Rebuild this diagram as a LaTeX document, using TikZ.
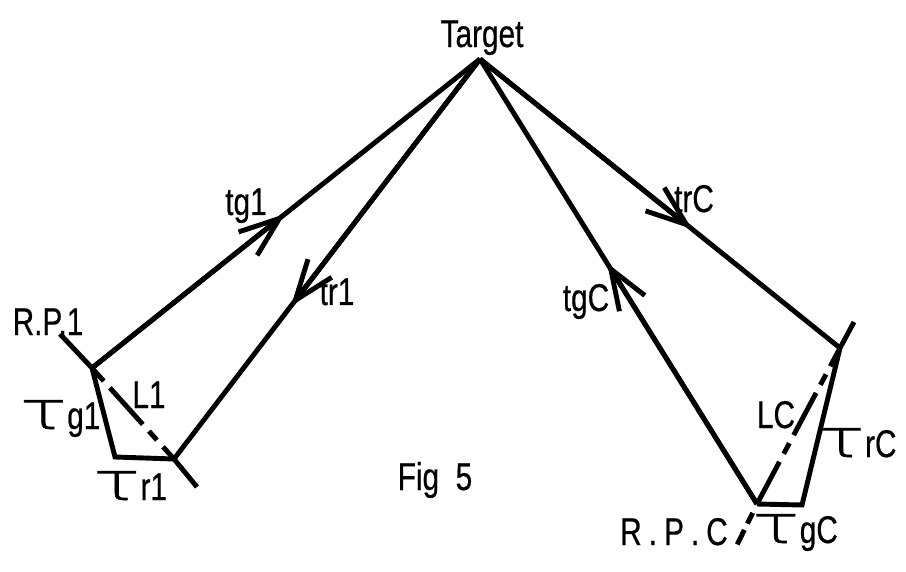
\documentclass[tikz,border=0pt]{standalone}
\usepackage{fontspec}
\setmainfont[FakeStretch=0.77,FakeBold=0.5]{Liberation Sans}
\newfontfamily\taufont[FakeStretch=1.5,FakeBold=1.2]{DejaVu Sans ExtraLight}
\usetikzlibrary{arrows.meta}
\tikzset{
  ray/.style={line width=1.4pt},
  rayarrow/.style={ray,-{Straight Barb[length=11.5pt,width=8.5pt,line width=1.4pt]}},
  lbl/.style={anchor=base,inner sep=0pt,font=\fontsize{11}{11}\selectfont},
  dashleft/.style={ray,dash pattern=on 5pt off 2.6pt on 14pt off 2.6pt on 3.4pt off 2.6pt},
  dashright/.style={ray,dash pattern=on 13.6pt off 2.6pt on 3.4pt off 2.6pt},
  dashstub/.style={ray,dash pattern=on 3.4pt off 2pt on 4.6pt off 2.8pt,dash phase=10pt}
}
\newcommand{\bigtau}{{\taufont\fontsize{15}{15}\selectfont τ}}
\begin{document}
\begin{tikzpicture}
      \useasboundingbox (0,0) rectangle (9.06,5.71);
      \coordinate (target) at (4.80,5.12);
      \coordinate (rp1) at (0.92,2.03);
      \coordinate (rp1end) at (0.60,2.37);
      \coordinate (q1) at (1.74,1.12);
      \coordinate (q1end) at (1.97,0.84);
      \coordinate (g1) at (1.15,1.14);
      \coordinate (qC) at (8.40,2.23);
      \coordinate (qCend) at (8.54,2.49);
      \coordinate (rpC) at (7.57,0.67);
      \coordinate (rpCend) at (7.37,0.26);
      \coordinate (gC) at (8.02,0.66);
      \coordinate (tipg1) at (2.85,3.57);
      \coordinate (tipr1) at (2.91,2.65);
      \coordinate (tipgC) at (6.07,3.08);
      \coordinate (tiprC) at (6.92,3.42);
      % rays
      \draw[ray] (rp1) -- (tipg1) -- (target);
      \draw[rayarrow] (rp1) -- (tipg1);
      \draw[ray] (target) -- (tipr1) -- (q1);
      \draw[rayarrow] (target) -- (tipr1);
      \draw[ray] (rpC) -- (tipgC) -- (target);
      \draw[rayarrow] (rpC) -- (tipgC);
      \draw[ray] (target) -- (tiprC) -- (qC);
      \draw[rayarrow] (target) -- (tiprC);
      % left end
      \draw[ray] (rp1end) -- (rp1) -- (g1) -- (q1) -- (q1end);
      \draw[dashleft] (rp1) -- (q1);
      % right end
      \draw[ray] (qCend) -- (qC) -- (gC) -- (rpC);
      \draw[dashright] (rpC) -- (qC);
      \draw[dashstub] (rpC) -- (rpCend);
      % labels
      \node[lbl] (ltarget) at (4.82,5.24) {Target};
      \node[lbl] (ltg1) at (2.46,3.56) {tg1};
      \node[lbl] (ltr1) at (3.37,2.66) {tr1};
      \node[lbl] (ltgC) at (5.86,2.60) {tgC};
      \node[lbl] (ltrC) at (6.94,3.59) {trC};
      \node[lbl] (lrp1) at (0.48,2.36) {R.P.1};
      \node[lbl] (lL1) at (1.49,1.63) {L1};
      \node[lbl] (ltaug1) at (0.60,1.42) {\bigtau g1};
      \node[lbl] (ltaur1) at (1.30,0.71) {\bigtau r1};
      \node[lbl] (lfig) at (4.35,0.81) {Fig\ \ 5};
      \node[lbl] (lLC) at (7.76,1.43) {LC};
      \node[lbl] (ltaurC) at (8.57,1.14) {\bigtau rC};
      \node[lbl] (ltaugC) at (7.95,0.28) {\bigtau gC};
      \node[lbl] (lrpC) at (6.74,0.26) {R\kern2pt.\kern2pt P\kern2pt.\kern2pt C};
\end{tikzpicture}
\end{document}
